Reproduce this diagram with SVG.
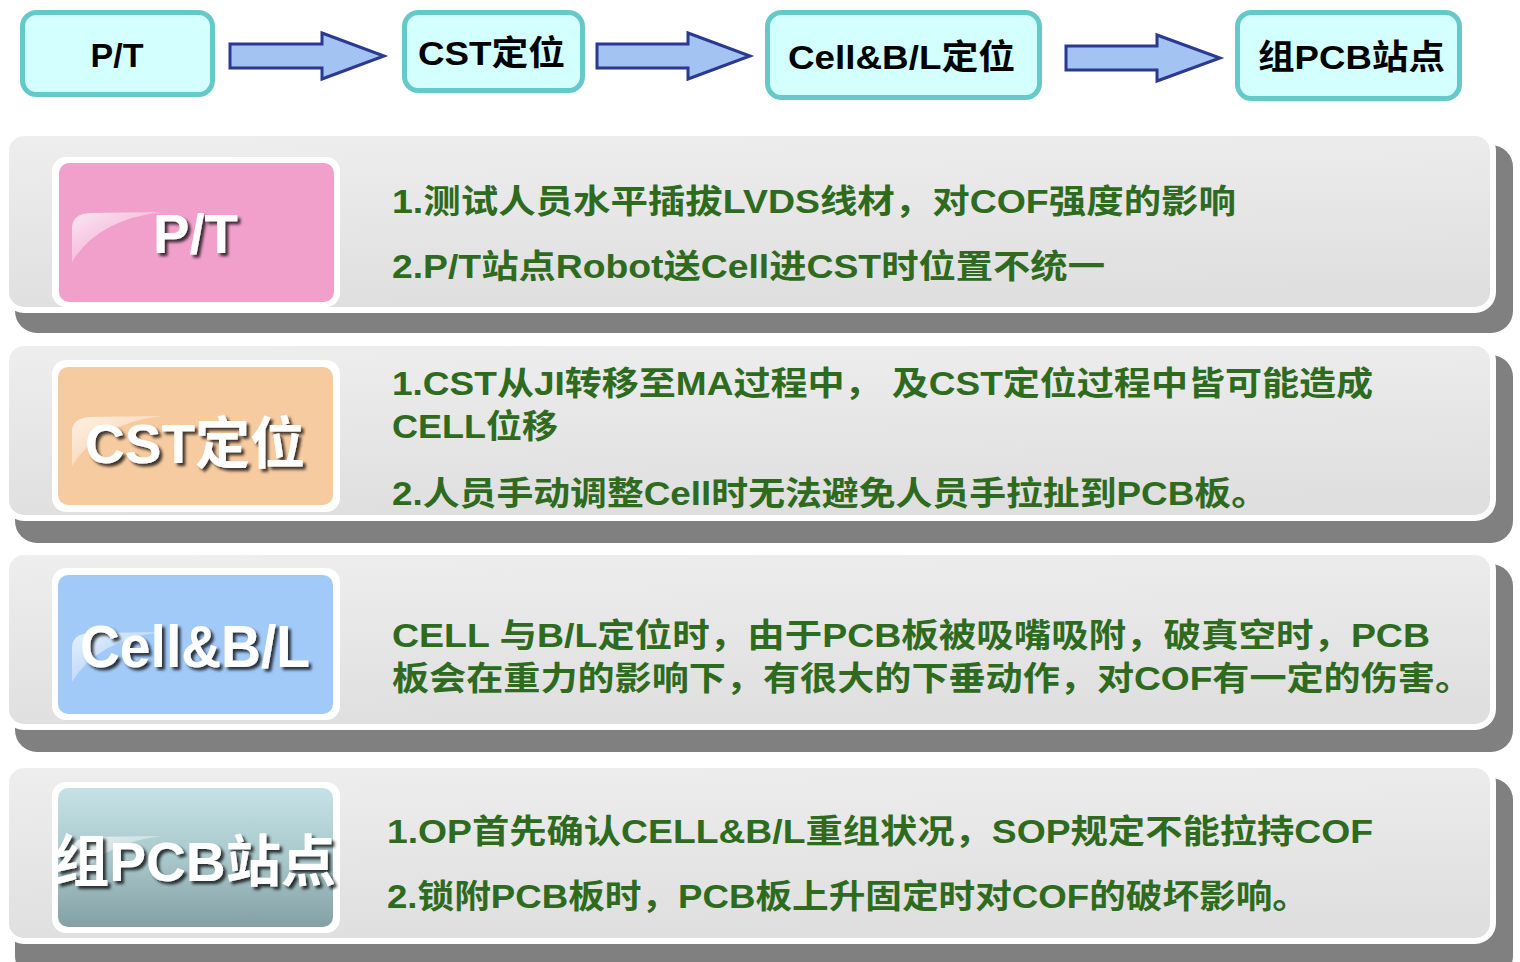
<svg xmlns="http://www.w3.org/2000/svg" width="1520" height="962" viewBox="0 0 1520 962">
<defs>
<linearGradient id="panelG" x1="0" y1="0" x2="0.15" y2="1">
<stop offset="0" stop-color="#EEEEEE"/>
<stop offset="1" stop-color="#DFDFDF"/>
</linearGradient>
<linearGradient id="tealG" x1="0" y1="0" x2="0" y2="1">
<stop offset="0" stop-color="#C5E3E7"/>
<stop offset="0.5" stop-color="#A9C8CC"/>
<stop offset="1" stop-color="#84A0A4"/>
</linearGradient>
<linearGradient id="glossG" x1="0" y1="0" x2="1" y2="1">
<stop offset="0" stop-color="#FFFFFF" stop-opacity="0.75"/>
<stop offset="0.6" stop-color="#FFFFFF" stop-opacity="0.25"/>
<stop offset="1" stop-color="#FFFFFF" stop-opacity="0"/>
</linearGradient>
<filter id="ts" x="-10%" y="-20%" width="130%" height="150%">
<feDropShadow dx="3" dy="3" stdDeviation="1.5" flood-color="#000000" flood-opacity="0.75"/>
</filter>
<path id="gloss" d="M0,50 L0,16 Q0,2 18,1 L90,0 Q25,8 0,50 Z"/>
</defs>
<style>
.tb{fill:#D4FFFF;stroke:#66C9C9;stroke-width:5}
.tt{font-family:"Liberation Sans","Noto Sans CJK SC",sans-serif;font-weight:bold;font-size:34px;fill:#000000}
.arr{fill:#A3C4F3;stroke:#2B3990;stroke-width:3;stroke-linejoin:miter}
.sh{fill:#808080}
.pn{fill:url(#panelG);stroke:#FFFFFF;stroke-width:6}
.wb{fill:#FFFFFF}
.lb{font-family:"Liberation Sans","Noto Sans CJK SC",sans-serif;font-weight:bold;fill:#FFFFFF;filter:url(#ts)}
.gt{font-family:"Liberation Sans","Noto Sans CJK SC",sans-serif;font-weight:bold;font-size:33px;fill:#2E6B1E}
.gl{fill:url(#glossG)}
</style>
<rect width="1520" height="962" fill="#FFFFFF"/>

<g id="connectors">
<path class="arr" d="M230,44 L322,44 L322,33 L384,56 L322,79 L322,68 L230,68 Z"/>
<path class="arr" d="M597,44 L688,44 L688,33 L750,56 L688,79 L688,68 L597,68 Z"/>
<path class="arr" d="M1066,46 L1157,46 L1157,35 L1220,58 L1157,81 L1157,70 L1066,70 Z"/>
</g>

<g id="step-pt">
<rect class="tb" x="22.5" y="12.5" width="190" height="82" rx="14"/>
<text class="tt" x="117" y="67" text-anchor="middle">P/T</text>
</g>
<g id="step-cst">
<rect class="tb" x="404.5" y="12.5" width="178" height="78" rx="14"/>
<text class="tt" x="418" y="65" textLength="147" lengthAdjust="spacingAndGlyphs">CST定位</text>
</g>
<g id="step-cell">
<rect class="tb" x="767.5" y="12.5" width="272" height="85" rx="14"/>
<text class="tt" x="788" y="69" textLength="227" lengthAdjust="spacingAndGlyphs">Cell&amp;B/L定位</text>
</g>
<g id="step-pcb">
<rect class="tb" x="1237.5" y="12.5" width="222" height="86" rx="14"/>
<text class="tt" x="1258" y="69" textLength="187" lengthAdjust="spacingAndGlyphs">组PCB站点</text>
</g>

<g id="row-pt">
<rect class="sh" x="15" y="145" width="1498" height="188" rx="22"/>
<rect class="pn" x="6" y="133" width="1487" height="177" rx="18"/>
<rect class="wb" x="52" y="157" width="288" height="150" rx="14"/>
<rect x="59" y="163" width="275" height="139" rx="10" fill="#F1A0CB"/>
<use href="#gloss" class="gl" transform="translate(72,212)"/>
<text class="lb" x="153" y="253" font-size="56" textLength="85" lengthAdjust="spacingAndGlyphs">P/T</text>
<text class="gt" x="392" y="213" textLength="844" lengthAdjust="spacingAndGlyphs">1.测试人员水平插拔LVDS线材，对COF强度的影响</text>
<text class="gt" x="392" y="278" textLength="713" lengthAdjust="spacingAndGlyphs">2.P/T站点Robot送Cell进CST时位置不统一</text>
</g>

<g id="row-cst">
<rect class="sh" x="15" y="355" width="1498" height="188" rx="22"/>
<rect class="pn" x="6" y="343" width="1487" height="175" rx="18"/>
<rect class="wb" x="52" y="360" width="288" height="152" rx="14"/>
<rect x="58" y="367" width="275" height="138" rx="10" fill="#F7CBA0"/>
<use href="#gloss" class="gl" transform="translate(72,416)"/>
<text class="lb" x="85" y="463" font-size="56" textLength="220" lengthAdjust="spacingAndGlyphs">CST定位</text>
<text class="gt" x="392" y="395" textLength="981" lengthAdjust="spacingAndGlyphs">1.CST从JI转移至MA过程中， 及CST定位过程中皆可能造成</text>
<text class="gt" x="392" y="438" textLength="166" lengthAdjust="spacingAndGlyphs">CELL位移</text>
<text class="gt" x="392" y="505" textLength="876" lengthAdjust="spacingAndGlyphs">2.人员手动调整Cell时无法避免人员手拉扯到PCB板。</text>
</g>

<g id="row-cell">
<rect class="sh" x="15" y="564" width="1498" height="188" rx="22"/>
<rect class="pn" x="6" y="552" width="1487" height="175" rx="18"/>
<rect class="wb" x="52" y="568" width="288" height="152" rx="14"/>
<rect x="58" y="575" width="275" height="139" rx="10" fill="#A2CAF8"/>
<use href="#gloss" class="gl" transform="translate(72,632)"/>
<text class="lb" x="80" y="667" font-size="60" textLength="230" lengthAdjust="spacingAndGlyphs">Cell&amp;B/L</text>
<text class="gt" x="392" y="647" textLength="1038" lengthAdjust="spacingAndGlyphs">CELL 与B/L定位时，由于PCB板被吸嘴吸附，破真空时，PCB</text>
<text class="gt" x="392" y="690" textLength="1080" lengthAdjust="spacingAndGlyphs">板会在重力的影响下，有很大的下垂动作，对COF有一定的伤害。</text>
</g>

<g id="row-pcb">
<rect class="sh" x="15" y="778" width="1498" height="200" rx="22"/>
<rect class="pn" x="6" y="765" width="1487" height="176" rx="18"/>
<rect class="wb" x="52" y="782" width="288" height="151" rx="14"/>
<rect x="58" y="788" width="275" height="139" rx="10" fill="url(#tealG)"/>
<use href="#gloss" class="gl" transform="translate(72,836)"/>
<text class="lb" x="54" y="881" font-size="56" textLength="282" lengthAdjust="spacingAndGlyphs">组PCB站点</text>
<text class="gt" x="387" y="843" textLength="986" lengthAdjust="spacingAndGlyphs">1.OP首先确认CELL&amp;B/L重组状况，SOP规定不能拉持COF</text>
<text class="gt" x="387" y="908" textLength="922" lengthAdjust="spacingAndGlyphs">2.锁附PCB板时，PCB板上升固定时对COF的破坏影响。</text>
</g>
</svg>
